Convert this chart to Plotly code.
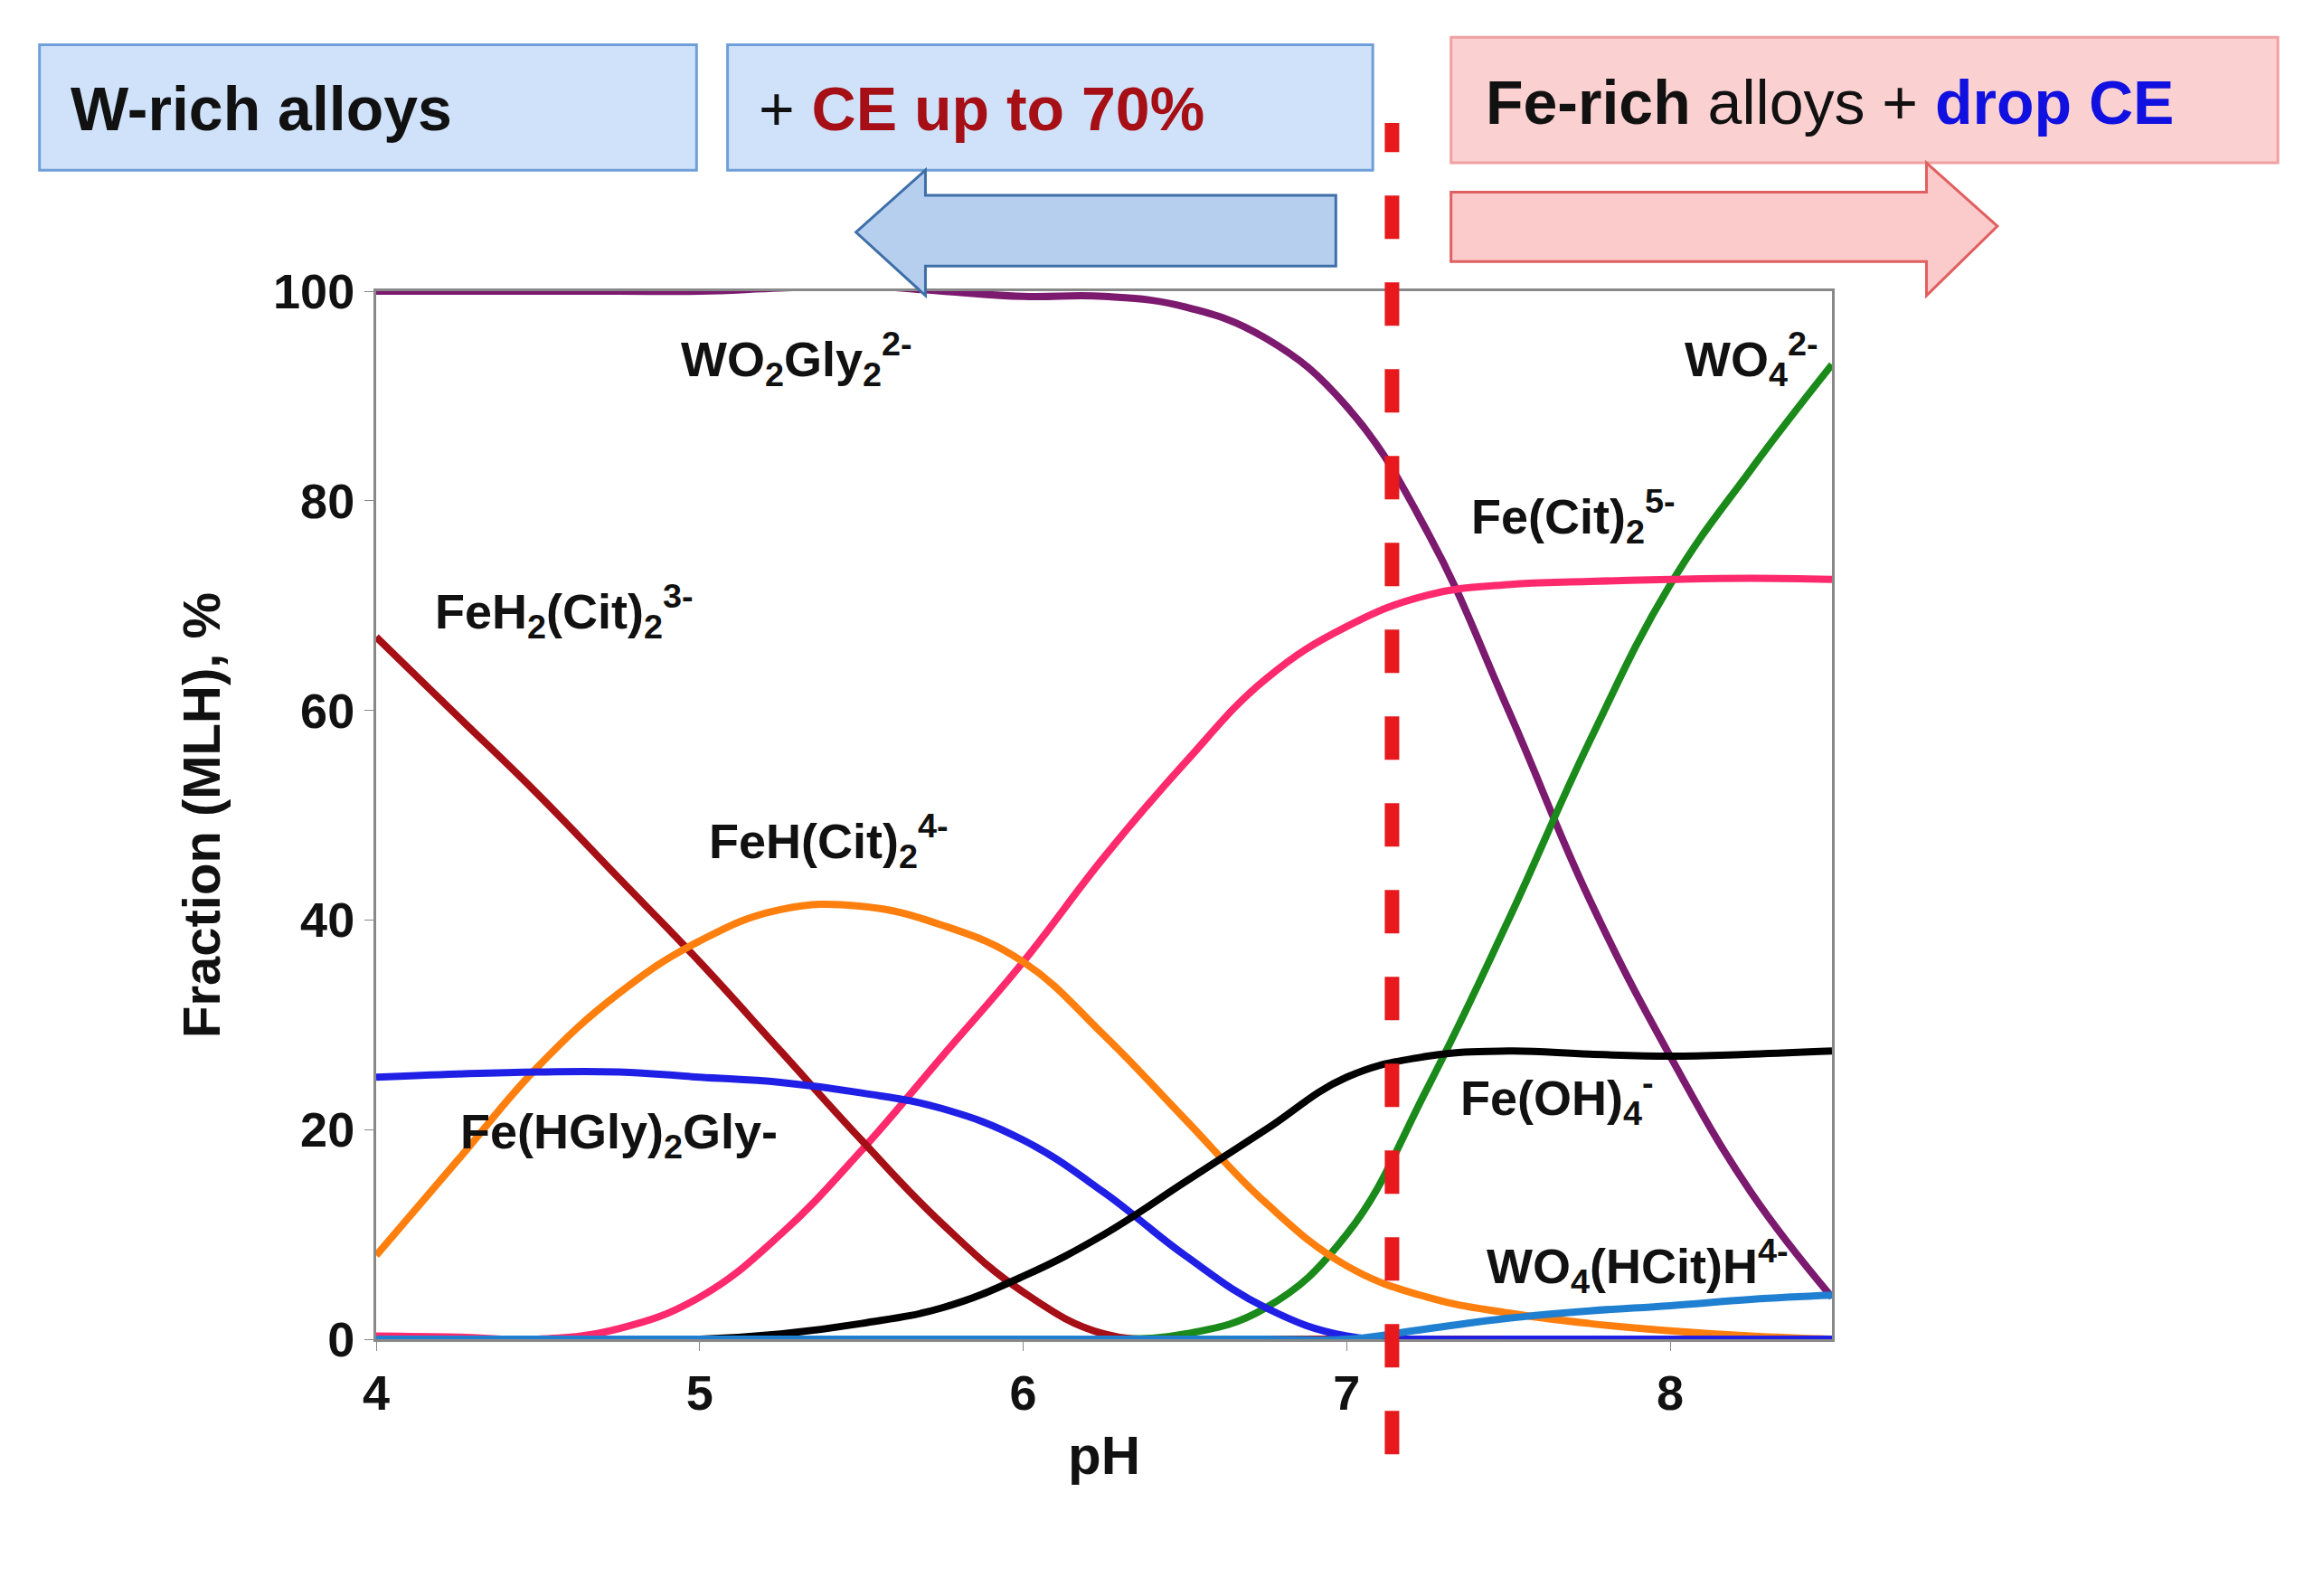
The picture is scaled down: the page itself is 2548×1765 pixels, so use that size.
import plotly.graph_objects as go

ph = [4, 4.25, 4.5, 4.75, 5, 5.25, 5.5, 5.75, 6, 6.25, 6.5, 6.75, 7, 7.25, 7.5, 7.75, 8, 8.25, 8.5]
wo2gly2 = [100, 100, 100, 100, 100, 100.3, 100.5, 100, 99.5, 99.5, 98.5, 95.5, 89, 77, 60, 42, 27, 14, 4]
wo4 = [0, 0, 0, 0, 0, 0, 0, 0, 0, 0, 0.5, 3, 10, 24, 40, 57, 72, 83, 93]
fecit2 = [0.3, 0.2, 0, 1, 4, 10, 18, 27, 36, 46, 55, 63, 68, 71, 72, 72.3, 72.5, 72.6, 72.5]
feh2cit2 = [67, 59.5, 52, 44, 36, 27.5, 19, 11, 4.5, 0.5, 0, 0, 0, 0, 0, 0, 0, 0, 0]
fehcit2 = [8, 17, 26, 33, 38, 41, 41.3, 39.5, 36, 29, 21, 13, 7, 4, 2.5, 1.5, 0.8, 0.3, 0]
fehgly = [25, 25.3, 25.5, 25.5, 25, 24.5, 23.5, 22, 19, 14, 8, 3, 0.3, 0, 0, 0, 0, 0, 0]
feoh4 = [0, 0, 0, 0, 0, 0.5, 1.5, 3, 6, 10, 15, 20, 25, 27, 27.5, 27.2, 27, 27.2, 27.5]
wo4hcit = [0, 0, 0, 0, 0, 0, 0, 0, 0, 0, 0, 0, 0, 1, 2, 2.7, 3.2, 3.8, 4.2]

series = [
    (wo2gly2, "#7b1a6e"), (wo4, "#1a8a1a"), (fecit2, "#ff2a6d"), (feh2cit2, "#a50f15"),
    (fehcit2, "#ff7f0e"), (fehgly, "#1f1fe6"), (feoh4, "#000000"), (wo4hcit, "#1f7fd0"),
]

fig = go.Figure()
for ys, c in series:
    fig.add_trace(go.Scatter(x=ph, y=ys, mode="lines",
                             line=dict(color=c, width=8, shape="spline", smoothing=1.2),
                             showlegend=False))

F = "Liberation Sans, Arial, sans-serif"
labels = [
    (5.3, 93.5, "WO<sub>2</sub>Gly<sub>2</sub><sup>2-</sup>"),
    (8.25, 93.5, "WO<sub>4</sub><sup>2-</sup>"),
    (7.7, 78.5, "Fe(Cit)<sub>2</sub><sup>5-</sup>"),
    (4.58, 69.5, "FeH<sub>2</sub>(Cit)<sub>2</sub><sup>3-</sup>"),
    (5.4, 47.5, "FeH(Cit)<sub>2</sub><sup>4-</sup>"),
    (4.75, 19.5, "Fe(HGly)<sub>2</sub>Gly-"),
    (7.65, 23, "Fe(OH)<sub>4</sub><sup>-</sup>"),
    (7.9, 7, "WO<sub>4</sub>(HCit)H<sup>4-</sup>"),
]
for x, y, t in labels:
    fig.add_annotation(x=x, y=y, text="<b>" + t + "</b>", showarrow=False,
                       font=dict(family=F, size=54, color="#111"))

# reference-pixel (as displayed, 1560 wide) -> plot-area paper coords
PX0, PX1, PY0, PY1 = 250.0, 1236.0, 192.0, 902.0
def px(x): return (x - PX0) / (PX1 - PX0)
def py(y): return (PY1 - y) / (PY1 - PY0)

for (x0, y0, x1, y1, fc, lc) in [(22, 25, 467, 110, "#cfe2fa", "#6f9fd8"),
                                  (488, 25, 925, 110, "#cfe2fa", "#6f9fd8"),
                                  (978, 20, 1538, 105, "#fbd0d0", "#f0a0a0")]:
    fig.add_shape(type="rect", xref="paper", yref="paper", x0=px(x0), x1=px(x1), y0=py(y1), y1=py(y0),
                  fillcolor=fc, line=dict(color=lc, width=3), layer="above")

def path(pts):
    return "M " + " L ".join(f"{px(a):.4f},{py(b):.4f}" for a, b in pts) + " Z"

fig.add_shape(type="path", xref="paper", yref="paper",
              path=path([(900, 127), (622, 127), (622, 110), (575, 152), (622, 195), (622, 175), (900, 175)]),
              fillcolor="#b7cfef", line=dict(color="#3f6fa8", width=3), layer="above")
fig.add_shape(type="path", xref="paper", yref="paper",
              path=path([(978, 125), (1300, 125), (1300, 105), (1348, 148), (1300, 195), (1300, 172), (978, 172)]),
              fillcolor="#fbcaca", line=dict(color="#e06060", width=3), layer="above")

fig.add_shape(type="line", xref="x", yref="paper", x0=7.14, x1=7.14, y0=py(980), y1=py(78),
              line=dict(color="#e8191c", width=16, dash="dash"), layer="above")

btxt = [
    (42, 68, "<b>W-rich alloys</b>"),
    (508, 68, "+ <b><span style='color:#a50f15'>CE up to 70%</span></b>"),
    (1000, 64, "<b>Fe-rich</b> alloys + <b><span style='color:#1010e0'>drop CE</span></b>"),
]
for x, y, t in btxt:
    fig.add_annotation(xref="paper", yref="paper", x=px(x), y=py(y), text=t, showarrow=False,
                       xanchor="left", yanchor="middle", font=dict(family=F, size=68, color="#111"))

fig.update_layout(
    width=2548, height=1765, plot_bgcolor="white", paper_bgcolor="white",
    margin=dict(l=408, r=530, t=314, b=292),
    xaxis=dict(range=[4, 8.5], tickvals=[4, 5, 6, 7, 8], showgrid=False, zeroline=False,
               showline=True, linecolor="#888", linewidth=3, mirror=True, ticks="outside",
               ticklen=10, tickcolor="#888",
               tickfont=dict(family=F, size=54, color="#111", weight="bold"),
               title=dict(text="<b>pH</b>", font=dict(family=F, size=60, color="#111"), standoff=20)),
    yaxis=dict(range=[0, 100], tickvals=[0, 20, 40, 60, 80, 100], showgrid=False, zeroline=False,
               showline=True, linecolor="#888", linewidth=3, mirror=True, ticks="outside",
               ticklen=10, tickcolor="#888",
               tickfont=dict(family=F, size=54, color="#111", weight="bold"),
               title=dict(text="<b>Fraction (MLH), %</b>", font=dict(family=F, size=58, color="#111"), standoff=40)),
)
fig.write_html("out.html")
